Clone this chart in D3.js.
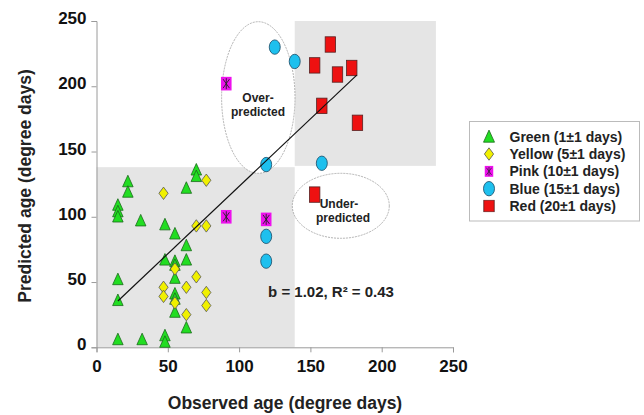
<!DOCTYPE html>
<html>
<head>
<meta charset="utf-8">
<script src="https://cdn.jsdelivr.net/npm/d3@7"></script>
<style>
  body { margin: 0; background: #fff; }
  svg text { font-family: "Liberation Sans", Arial, sans-serif; font-weight: bold; }
</style>
</head>
<body>
<div id="chart"></div>
<script>
// observed, predicted (degree days)
const green = [[15,109],[15,104],[15,100],[22,127],[22,119],[31,97],[48,94],[55,87],[63,122],
  [70,136],[70,131],[63,78],[48,67],[55,66],[55,63],[55,53],[63,67],[15,52],[15,36],
  [55,41],[55,37],[55,27],[63,15],[15,6],[32,6],[48,9],[48,4]];
const yellow = [[47,118],[77,128],[70,93],[77,93],[55,60],[70,54],[47,46],[47,39],[63,46],
  [77,42],[77,32],[55,34],[63,25]];
const pink = [[91,100],[119,98],[91,202]];
const blue = [[125,230],[139,219],[119,140],[158,141],[119,85],[119,66]];
const red = [[164,232],[153,216],[169,209],[179,214],[158,185],[183,172],[153,117]];

const groups = ["Green (1\u00b11 days)", "Yellow (5\u00b11 days)", "Pink (10\u00b11 days)",
  "Blue (15\u00b11 days)", "Red (20\u00b11 days)"];
const ticks = [0, 50, 100, 150, 200, 250];

// zones: [x0, x1, y0, y1]
const zones = [[0, 139, 0, 138], [139, 238, 139, 250]];
const fit = [[15, 35.5], [182.5, 208.5]];

const width = 644, height = 415;
const svg = d3.select("#chart").append("svg")
  .attr("width", width).attr("height", height);

const x = d3.scaleLinear().domain([0, 250]).range([96.5, 453]);
const y = d3.scaleLinear().domain([0, 250]).range([347.3, 21]);

svg.selectAll("rect.zone").data(zones).enter().append("rect")
  .attr("x", d => x(d[0])).attr("width", d => x(d[1]) - x(d[0]))
  .attr("y", d => y(d[3])).attr("height", d => y(d[2]) - y(d[3]))
  .attr("fill", "#e5e5e5");

// axes
const xAxis = svg.append("g").attr("transform", `translate(0,${y(0)})`)
  .call(d3.axisBottom(x).tickValues(ticks).tickSize(5).tickPadding(8));
const yAxis = svg.append("g").attr("transform", `translate(${x(0)},0)`)
  .call(d3.axisLeft(y).tickValues(ticks).tickSize(5).tickPadding(5));
[xAxis, yAxis].forEach(a => {
  a.selectAll("path, line").attr("stroke", "#9a9a9a");
  a.selectAll("text").style("font-size", "17px").attr("fill", "#111")
    .style("font-family", "'Liberation Sans', Arial, sans-serif").style("font-weight", "bold");
});
yAxis.selectAll("text").attr("dy", "0.15em");

// ellipses
svg.append("ellipse").attr("cx", 258.3).attr("cy", 97.5).attr("rx", 36.7).attr("ry", 75.8)
  .attr("fill", "#fff").attr("stroke", "#a0a0a0").attr("stroke-width", 0.8).attr("stroke-dasharray", "2,1");
svg.append("ellipse").attr("cx", 340.8).attr("cy", 205.8).attr("rx", 48.5).attr("ry", 32.5)
  .attr("fill", "#fff").attr("stroke", "#a0a0a0").attr("stroke-width", 0.8).attr("stroke-dasharray", "2,1");

function note(cx, lines, y0) {
  const t = svg.append("text").attr("text-anchor", "middle")
    .style("font-size", "12px").attr("fill", "#222");
  lines.forEach((l, i) => t.append("tspan").attr("x", cx + l[1]).attr("y", y0 + i * 14).text(l[0]));
}
note(258, [["Over-", 0], ["predicted", 0]], 102);
note(341, [["Under-", -2], ["predicted", 2]], 208);

// markers
function tri(g, s) {
  g.append("path").attr("d", `M0,${-s * 0.6}L${s * 0.5},${s * 0.5}L${-s * 0.5},${s * 0.5}Z`)
    .attr("fill", "#22dd22").attr("stroke", "#1a6a1a").attr("stroke-width", 0.8);
}
function diamond(g) {
  g.append("path").attr("d", "M0,-6.2L4.6,0L0,6.2L-4.6,0Z")
    .attr("fill", "#f0f000").attr("stroke", "#555").attr("stroke-width", 0.8);
}
function pinkMark(g) {
  g.append("rect").attr("x", -5.3).attr("y", -6.8).attr("width", 10.6).attr("height", 13.6)
    .attr("fill", "#ee11ee");
  g.append("path").attr("d", "M-3.2,-4.5L3.2,4.5M3.2,-4.5L-3.2,4.5M0,-5.5L0,5.5")
    .attr("stroke", "#222").attr("stroke-width", 0.9);
}
function circ(g) {
  g.append("ellipse").attr("rx", 5.5).attr("ry", 7.2)
    .attr("fill", "#1ec0ee").attr("stroke", "#1a4a66").attr("stroke-width", 0.8);
}
function sq(g) {
  g.append("rect").attr("x", -5.2).attr("y", -7.7).attr("width", 10.4).attr("height", 15.4)
    .attr("fill", "#ee1111").attr("stroke", "#552222").attr("stroke-width", 0.8);
}

function plot(data, draw) {
  svg.append("g").selectAll("g").data(data).enter().append("g")
    .attr("transform", d => `translate(${x(d[0])},${y(d[1])})`)
    .each(function() { draw(d3.select(this), 10.5); });
}
plot(green, tri);
plot(yellow, diamond);
plot(pink, pinkMark);
plot(blue, circ);
plot(red, sq);

svg.append("line")
  .attr("x1", x(fit[0][0])).attr("y1", y(fit[0][1]))
  .attr("x2", x(fit[1][0])).attr("y2", y(fit[1][1]))
  .attr("stroke", "#111").attr("stroke-width", 1.2);

svg.append("text").attr("x", 331).attr("y", 297).attr("text-anchor", "middle")
  .style("font-size", "15px").attr("fill", "#222")
  .text("b = 1.02, R\u00b2 = 0.43");

// axis titles
svg.append("text").attr("x", 285).attr("y", 409).attr("text-anchor", "middle")
  .style("font-size", "17.5px").attr("fill", "#222").text("Observed age (degree days)");
svg.append("text").attr("transform", "translate(31,186) rotate(-90)").attr("text-anchor", "middle")
  .style("font-size", "17.5px").attr("fill", "#222").text("Predicted age (degree days)");

// legend
const legend = svg.append("g");
legend.append("rect").attr("x", 469.5).attr("y", 121.5).attr("width", 170).attr("height", 99.5)
  .attr("fill", "#fff").attr("stroke", "#bbb");
const drawers = [g => tri(g, 11), diamond, pinkMark, circ, sq];
const rowY = d3.scalePoint().domain(groups).range([136.7, 206]);
groups.forEach((name, i) => {
  const g = legend.append("g").attr("transform", `translate(489,${rowY(name)})`);
  const m = g.append("g").attr("transform", i === 2 ? "scale(0.8)" : (i === 4 ? "scale(1,0.75)" : null));
  drawers[i](m);
  g.append("text").attr("x", 20.5).attr("y", 5).style("font-size", "14px").attr("fill", "#222").text(name);
});
</script>
</body>
</html>
